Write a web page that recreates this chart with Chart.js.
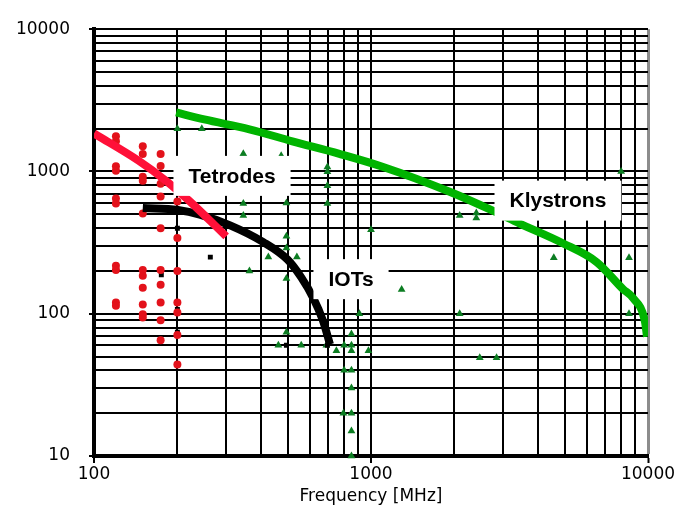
<!DOCTYPE html>
<html>
<head>
<meta charset="utf-8">
<script src="https://cdn.jsdelivr.net/npm/chart.js@4.4.1/dist/chart.umd.min.js"></script>
<style>
    html, body { margin: 0; padding: 0; background: #fff; }
</style>
</head>
<body>
<canvas id="tubes" width="684" height="506"></canvas>
<script>
/* =========================================================
   DATA — frequency [MHz] vs power
   ========================================================= */
const X_GRID = [100, 200, 300, 400, 500, 600, 700, 800, 900,
                1000, 2000, 3000, 4000, 5000, 6000, 7000, 8000, 9000, 10000];
const Y_GRID = [10, 20, 30, 40, 50, 60, 70, 80, 90,
                100, 200, 300, 400, 500, 600, 700, 800, 900,
                1000, 2000, 3000, 4000, 5000, 6000, 7000, 8000, 9000, 10000];
const X_LABELS = [100, 1000, 10000];
const Y_LABELS = [10, 100, 1000, 10000];

// envelope curves
const TETRODE_CURVE_MHZ = [100, 145, 182, 220, 300];
const TETRODE_CURVE_PWR = [1850, 1190, 860, 625, 350];

const IOT_CURVE_MHZ = [150, 201, 241, 310, 407, 500, 560, 620, 670, 711];
const IOT_CURVE_PWR = [553, 536, 498, 418, 320, 240, 180, 128, 90, 61];

const KLY_CURVE_MHZ = [198, 250, 364, 520, 769, 1100, 1923, 2750, 3444, 4926, 6540, 8123, 8827, 9750, 9918];
const KLY_CURVE_PWR = [2600, 2320, 1980, 1630, 1330, 1080, 720, 530, 430, 313, 230, 149, 129, 88, 69];

// individual devices
const TETRODE_PTS_MHZ = [120, 120, 120, 120, 120, 120, 120, 120, 120, 120,
                         150, 150, 150, 150, 150, 150, 150, 150, 150, 150, 150,
                         174, 174, 174, 174, 174, 174, 174, 174, 174, 174,
                         200, 200, 200, 200, 200, 200, 200];
const TETRODE_PTS_PWR = [1770, 1630, 1090, 1010, 645, 595, 217, 203, 120, 114,
                         1507, 1326, 917, 860, 507, 203, 185, 152, 116, 99, 94,
                         1326, 1094, 820, 666, 399, 203, 160, 120, 90, 65,
                         614, 340, 200, 120, 102, 71, 44];

const IOT_PTS_MHZ = [174, 200, 175, 200, 200, 263, 495, 696];
const IOT_PTS_PWR = [399, 399, 188, 107, 74, 250, 60, 60];

const KLY_PTS_MHZ = [200, 245, 346, 346, 346, 474, 495, 495, 495, 495, 495,
                     426, 540, 364, 463, 560, 690, 696, 696, 696, 696,
                     908, 850, 800, 850, 750, 850, 979, 800, 850, 850,
                     795, 850, 850, 850, 1000, 1290, 2090, 2400, 2400,
                     8000, 4570, 8540, 2090, 8540, 2470, 2840];
const KLY_PTS_PWR = [2000, 2000, 1330, 595, 491, 1290, 600, 350, 290, 177, 74,
                     250, 250, 200, 60, 60, 60, 1076, 994, 794, 595,
                     100, 72, 60, 60, 55, 55, 55, 40, 40, 30,
                     20, 20, 15, 10, 390, 148, 490, 510, 470,
                     1000, 247, 247, 100, 100, 49, 49];

// text boxes, centred on a (MHz, power) position
const BOX_TEXT = ['Tetrodes', 'Klystrons', 'IOTs'];
const BOX_MHZ = [315, 4730, 847];
const BOX_PWR = [931, 624, 175];

/* =========================================================
   HELPERS
   ========================================================= */
const pts = (xs, ys) => xs.map((x, i) => ({ x, y: ys[i] }));
const AXIS_FONT = { family: '"DejaVu Sans", Verdana, sans-serif', size: 17 };

const boxLabels = {
    id: 'boxLabels',
    afterDatasetsDraw(chart) {
        const { ctx, scales: { x, y } } = chart;
        ctx.save();
        ctx.font = 'bold 21px "Liberation Sans", Arial, sans-serif';
        ctx.textAlign = 'center';
        ctx.textBaseline = 'middle';
        BOX_TEXT.forEach((txt, i) => {
            const cx = x.getPixelForValue(BOX_MHZ[i]);
            const cy = y.getPixelForValue(BOX_PWR[i]);
            const w = ctx.measureText(txt).width + 30;
            const h = 40;
            ctx.fillStyle = '#fff';
            ctx.fillRect(cx - w / 2, cy - h / 2, w, h);
            ctx.fillStyle = '#000';
            ctx.fillText(txt, cx, cy + 1);
        });
        ctx.restore();
    }
};

const curve = (label, data, color) => ({
    label,
    data,
    showLine: true,
    borderColor: color,
    borderWidth: 8,
    pointRadius: 0,
    cubicInterpolationMode: 'monotone'
});

/* =========================================================
   CHART
   ========================================================= */
new Chart(document.getElementById('tubes').getContext('2d'), {
    type: 'scatter',
    data: {
        datasets: [
            curve('Tetrodes', pts(TETRODE_CURVE_MHZ, TETRODE_CURVE_PWR), '#ff1038'),
            curve('IOTs', pts(IOT_CURVE_MHZ, IOT_CURVE_PWR), '#000'),
            curve('Klystrons', pts(KLY_CURVE_MHZ, KLY_CURVE_PWR), '#00b400'),
            {
                label: 'Tetrode tubes',
                data: pts(TETRODE_PTS_MHZ, TETRODE_PTS_PWR),
                pointStyle: 'circle',
                pointRadius: 4,
                backgroundColor: '#e3121b',
                borderColor: '#e3121b',
                borderWidth: 0,
                clip: 8
            },
            {
                label: 'IOT tubes',
                data: pts(IOT_PTS_MHZ, IOT_PTS_PWR),
                pointStyle: 'rect',
                pointRadius: 3.5,
                backgroundColor: '#000',
                borderColor: '#000',
                borderWidth: 0,
                clip: 8
            },
            {
                label: 'Klystron tubes',
                data: pts(KLY_PTS_MHZ, KLY_PTS_PWR),
                pointStyle: 'triangle',
                pointRadius: 4.5,
                backgroundColor: '#0c7d22',
                borderColor: '#0c7d22',
                borderWidth: 0,
                clip: 8
            }
        ]
    },
    options: {
        responsive: false,
        animation: false,
        layout: { padding: { top: 24, right: 36, left: 0, bottom: 0 } },
        plugins: {
            legend: { display: false },
            tooltip: { enabled: false }
        },
        scales: {
            x: {
                type: 'logarithmic',
                min: 100,
                max: 10000,
                afterBuildTicks: (s) => { s.ticks = X_GRID.map(v => ({ value: v })); },
                afterFit: (s) => { s.height = 50; },
                grid: {
                    color: (c) => c.tick && c.tick.value === 10000 ? '#8c8c8c' : '#000',
                    lineWidth: (c) => c.tick && c.tick.value === 10000 ? 3 : 2,
                    tickColor: (c) => c.tick && X_LABELS.includes(c.tick.value) ? '#000' : 'rgba(0,0,0,0)',
                    tickWidth: 2,
                    tickLength: 7
                },
                border: { display: true, color: '#000', width: 4 },
                ticks: {
                    autoSkip: false,
                    maxRotation: 0,
                    padding: 1,
                    color: '#000',
                    font: AXIS_FONT,
                    callback: (v) => X_LABELS.includes(v) ? String(v) : ''
                },
                title: {
                    display: true,
                    text: 'Frequency [MHz]',
                    color: '#000',
                    font: AXIS_FONT,
                    padding: { top: 0, bottom: -1 }
                }
            },
            y: {
                type: 'logarithmic',
                min: 10,
                max: 10000,
                afterBuildTicks: (s) => { s.ticks = Y_GRID.map(v => ({ value: v })); },
                afterFit: (s) => { s.width = 94; },
                grid: {
                    color: (c) => c.tick && c.tick.value === 10 ? '#8c8c8c' : '#000',
                    lineWidth: 2,
                    tickColor: (c) => c.tick && Y_LABELS.includes(c.tick.value) ? '#000' : 'rgba(0,0,0,0)',
                    tickWidth: 2,
                    tickLength: 5
                },
                border: { display: true, color: '#000', width: 4 },
                ticks: {
                    autoSkip: false,
                    padding: 19,
                    color: '#000',
                    font: AXIS_FONT,
                    callback: (v) => Y_LABELS.includes(v) ? String(v) : ''
                }
            }
        }
    },
    plugins: [boxLabels]
});
</script>
</body>
</html>
